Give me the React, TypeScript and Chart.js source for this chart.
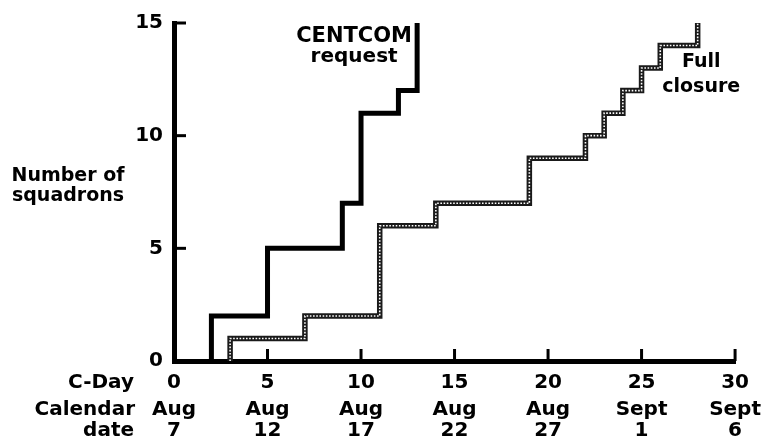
import React, { useEffect, useRef } from "react";
import { Chart, registerables } from "chart.js";
Chart.register(...registerables);

// X axis: C-Day ticks and calendar dates
const cDayTicks = [0, 5, 10, 15, 20, 25, 30];
const calendarMonths = ["Aug", "Aug", "Aug", "Aug", "Aug", "Sept", "Sept"];
const calendarDays = ["7", "12", "17", "22", "27", "1", "6"];
// Y axis ticks
const yTicks = [0, 5, 10, 15];

// CENTCOM request (step changes: C-Day, squadrons)
const centcomDays = [2, 2, 5, 9, 10, 12, 13];
const centcomSquadrons = [0, 2, 5, 7, 11, 12, 15];
// Full closure
const closureDays = [3, 3, 7, 11, 14, 19, 22, 23, 24, 25, 26, 28];
const closureSquadrons = [0, 1, 2, 6, 7, 9, 10, 11, 12, 13, 14, 15];

const FONT = '"DejaVu Sans"';
const FS = 20;

const decorations = {
  id: "decorations",
  afterDraw(chart: any) {
    const { ctx, scales } = chart;
    const x = scales.x;
    const y = scales.y;
    const x2 = scales.x2;
    ctx.save();
    // inward tick marks
    ctx.strokeStyle = "#000";
    ctx.lineWidth = 3;
    ctx.lineCap = "butt";
    cDayTicks.forEach((v) => {
      if (v === 0) return;
      const px = x.getPixelForValue(v);
      ctx.beginPath();
      ctx.moveTo(px, y.bottom);
      ctx.lineTo(px, y.bottom - 12);
      ctx.stroke();
    });
    yTicks.forEach((v) => {
      if (v === 0) return;
      const py = y.getPixelForValue(v);
      ctx.beginPath();
      ctx.moveTo(x.left, py);
      ctx.lineTo(x.left + 12, py);
      ctx.stroke();
    });

    ctx.fillStyle = "#000";
    ctx.font = `bold ${FS}px ${FONT}`;
    // left axis row labels
    ctx.textAlign = "right";
    ctx.textBaseline = "middle";
    const lh1 = FS * 1.2;
    const lh2 = FS * 1.05;
    const row1 = x.top + 9.5 + lh1 / 2;
    const row2 = x2.top + 8 + lh2 / 2;
    const row3 = row2 + lh2;
    ctx.fillText("C-Day", 134, row1);
    ctx.fillText("Calendar", 135, row2);
    ctx.fillText("date", 134, row3);

    // y axis title
    ctx.textAlign = "center";
    ctx.textBaseline = "alphabetic";
    ctx.font = `bold 19px ${FONT}`;
    ctx.fillText("Number of", 68, y.getPixelForValue(7.98));
    ctx.fillText("squadrons", 68, y.getPixelForValue(7.1));

    // series annotations
    ctx.font = `bold 21px ${FONT}`;
    ctx.fillText("CENTCOM", x.getPixelForValue(9.63), y.getPixelForValue(14.14));
    ctx.font = `bold 20px ${FONT}`;
    ctx.fillText("request", x.getPixelForValue(9.63), y.getPixelForValue(13.27));
    ctx.font = `bold 19px ${FONT}`;
    ctx.fillText("Full", x.getPixelForValue(28.19), y.getPixelForValue(13.04));
    ctx.fillText("closure", x.getPixelForValue(28.19), y.getPixelForValue(11.95));
    ctx.restore();
  },
};

export default function App() {
  const ref = useRef<HTMLCanvasElement | null>(null);
  useEffect(() => {
    document.body.style.margin = "0";
    const canvas = ref.current;
    if (!canvas) return;
    Chart.defaults.font.family = FONT;
    Chart.defaults.font.weight = "bold" as any;
    Chart.defaults.font.size = FS;
    Chart.defaults.color = "#000";

    const centcom = centcomDays.map((d, i) => ({ x: d, y: centcomSquadrons[i] }));
    const closure = closureDays.map((d, i) => ({ x: d, y: closureSquadrons[i] }));

    const chart = new Chart(canvas, {
      type: "line",
      data: {
        datasets: [
          {
            label: "CENTCOM request",
            data: centcom,
            borderColor: "#000",
            borderWidth: 5,
            stepped: "before",
            pointRadius: 0,
            fill: false,
            clip: false as any,
            borderCapStyle: "butt",
            borderJoinStyle: "miter",
          },
          {
            label: "Full closure overlay",
            data: closure,
            borderColor: "#ffffff",
            borderWidth: 1.6,
            borderDash: [1.6, 1.6],
            stepped: "before",
            pointRadius: 0,
            fill: false,
            clip: false as any,
          },
          {
            label: "Full closure",
            data: closure,
            borderColor: "#1a1a1a",
            borderWidth: 5.5,
            stepped: "before",
            pointRadius: 0,
            fill: false,
            clip: false as any,
            borderJoinStyle: "miter",
          },
        ],
      },
      options: {
        animation: false,
        responsive: false,
        events: [],
        layout: { padding: { top: 17, right: 31, left: 0, bottom: 0 } },
        plugins: { legend: { display: false }, tooltip: { enabled: false } },
        scales: {
          x: {
            type: "linear",
            position: "bottom",
            min: 0,
            max: 30,
            weight: 0,
            grid: { display: false, drawTicks: false },
            border: { display: true, color: "#000", width: 5 },
            afterBuildTicks: (s: any) => {
              s.ticks = cDayTicks.map((v) => ({ value: v }));
            },
            afterFit: (s: any) => {
              s.height = 30;
            },
            ticks: {
              padding: 9.5,
              maxRotation: 0,
              autoSkip: false,
              font: { size: FS, weight: "bold", lineHeight: 1.2 },
              callback: (v: any) => String(v),
            },
          },
          x2: {
            type: "linear",
            position: "bottom",
            min: 0,
            max: 30,
            weight: 1,
            grid: { display: false, drawTicks: false },
            border: { display: false },
            afterBuildTicks: (s: any) => {
              s.ticks = cDayTicks.map((v) => ({ value: v }));
            },
            afterFit: (s: any) => {
              s.height = 57;
            },
            ticks: {
              padding: 8,
              maxRotation: 0,
              autoSkip: false,
              font: { size: FS, weight: "bold", lineHeight: 1.05 },
              callback: (v: any) => {
                const i = cDayTicks.indexOf(Number(v));
                return i >= 0 ? [calendarMonths[i], calendarDays[i]] : "";
              },
            },
          },
          y: {
            type: "linear",
            min: 0,
            max: 15,
            grid: { display: false, drawTicks: false },
            border: { display: true, color: "#000", width: 5 },
            afterBuildTicks: (s: any) => {
              s.ticks = yTicks.map((v) => ({ value: v }));
            },
            afterFit: (s: any) => {
              s.width = 174;
            },
            ticks: {
              padding: 11,
              font: { size: FS, weight: "bold" },
              callback: (v: any) => String(v),
            },
          },
        },
      },
      plugins: [decorations],
    });
    return () => chart.destroy();
  }, []);
  return (
    <div style={{ position: "fixed", left: 0, top: 0, width: 769, height: 448 }}>
      <canvas ref={ref} width={769} height={448} style={{ display: "block" }} />
    </div>
  );
}
